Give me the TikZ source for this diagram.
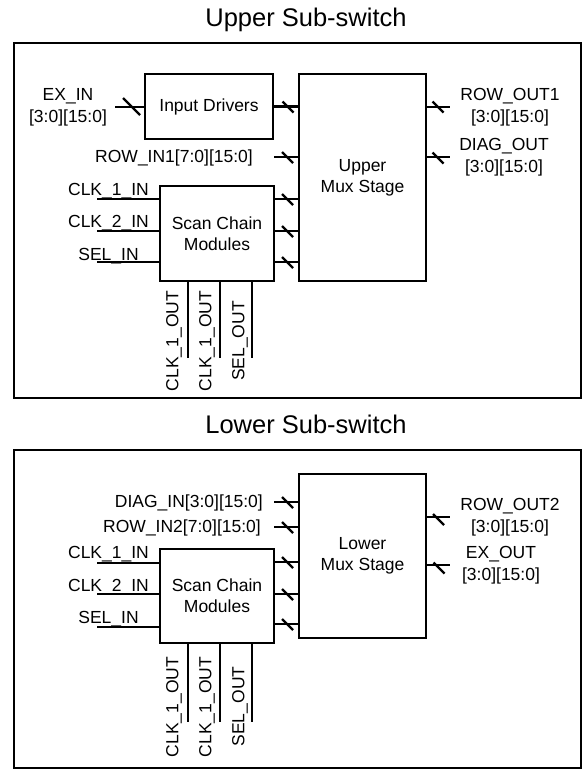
\documentclass[tikz,border=0pt]{standalone}
\usepackage{fontspec}
\setmainfont{Liberation Sans}
\usetikzlibrary{calc}
\begin{document}
\begin{tikzpicture}[x=1pt,y=-1pt,
  wire/.style={line width=2.5pt},
  bus/.style={line width=2.3pt},
  blk/.style={draw,line width=2.5pt,inner sep=0pt,font=\fontsize{17.5}{21}\selectfont,align=center},
  frm/.style={draw,line width=2pt,inner sep=0pt},
  lbl/.style={font=\fontsize{17.5}{22}\selectfont,inner sep=0pt},
  ttl/.style={font=\fontsize{25.5}{30}\selectfont,inner sep=0pt,anchor=base}]
\useasboundingbox (0,0) rectangle (584,770);

% ================= Upper =================
\node[ttl] (utitle) at (306,27) {Upper Sub-switch};
\node[frm,minimum width=567pt,minimum height=355pt] (ufrm) at (297.5,220.5) {};

\node[blk,minimum width=128pt,minimum height=65pt] (drv) at (209,106.5) {Input Drivers};
\node[blk,minimum width=127pt,minimum height=207pt] (umux) at (362.5,177.5) {Upper\\Mux Stage};
\node[blk,minimum width=114pt,minimum height=95pt] (uscan) at (217,233.5) {Scan Chain\\Modules};

% EX_IN
\coordinate (exin) at (115,107);
\draw[wire] (exin) -- (exin -| drv.west);
\draw[bus] (131.5,106.5) ++(-8.5,-8.5) -- ++(17,17);
\node[lbl,align=center] (exinl) at (68,107) {EX\_IN\\{[3:0][15:0]}};

% drivers -> mux
\draw[wire] (drv.east) -- (drv.east -| umux.west);
\draw[bus] (288,107) ++(-5.5,-5.5) -- ++(11,11);

% ROW_IN1
\coordinate (rin1) at (274,157);
\draw[wire] (rin1) -- (rin1 -| umux.west);
\draw[bus] (287.5,157.5) ++(-5.5,-5.5) -- ++(11,11);
\node[lbl,anchor=base east] (rin1l) at (253,163) {ROW\_IN1[7:0][15:0]};

% scan -> mux
\coordinate (us1) at (274,199);
\coordinate (us2) at (274,231);
\coordinate (us3) at (274,262);
\foreach \c in {us1,us2,us3}{
  \draw[wire] (\c) -- (\c -| umux.west);
  \draw[bus] ($(\c)+(13.5,0.5)$) ++(-5.5,-5.5) -- ++(11,11);
}

% scan inputs
\coordinate (uc1) at (97,199);
\coordinate (uc2) at (97,231);
\coordinate (uc3) at (97,262);
\draw[wire] (uc1) -- (uc1 -| uscan.west);
\draw[wire] (uc2) -- (uc2 -| uscan.west);
\draw[wire] (uc3) -- (uc3 -| uscan.west);
\node[lbl,anchor=base] (uc1l) at (108.5,195) {CLK\_1\_IN};
\node[lbl,anchor=base] (uc2l) at (108.5,227) {CLK\_2\_IN};
\node[lbl,anchor=base] (uc3l) at (108.5,260) {SEL\_IN};

% scan outputs
\coordinate (uo1) at (188,358);
\coordinate (uo2) at (220,358);
\coordinate (uo3) at (252,358);
\draw[wire] (uo1 |- uscan.south) -- (uo1);
\draw[wire] (uo2 |- uscan.south) -- (uo2);
\draw[wire] (uo3 |- uscan.south) -- (uo3);
\node[lbl,rotate=90] (uo1l) at (174,341) {CLK\_1\_OUT};
\node[lbl,rotate=90] (uo2l) at (207,341) {CLK\_1\_OUT};
\node[lbl,rotate=90] (uo3l) at (240,341) {SEL\_OUT};

% mux outputs
\coordinate (ro1) at (450,107);
\coordinate (do1) at (450,157);
\draw[wire] (ro1 -| umux.east) -- (ro1);
\draw[wire] (do1 -| umux.east) -- (do1);
\draw[bus] (438,107) ++(-5.5,-5.5) -- ++(11,11);
\draw[bus] (438,158) ++(-5.5,-5.5) -- ++(11,11);
\node[lbl,align=center] (ro1l) at (510,107.5) {ROW\_OUT1\\{[3:0][15:0]}};
\node[lbl,align=center] (do1l) at (504,157.5) {DIAG\_OUT\\{[3:0][15:0]}};

% ================= Lower =================
\node[ttl] (ltitle) at (306,433) {Lower Sub-switch};
\node[frm,minimum width=567pt,minimum height=318pt] (lfrm) at (297.5,609) {};

\node[blk,minimum width=127pt,minimum height=164pt] (lmux) at (362.5,556) {Lower\\Mux Stage};
\node[blk,minimum width=114pt,minimum height=94pt] (lscan) at (217,596) {Scan Chain\\Modules};

% DIAG_IN, ROW_IN2
\coordinate (din) at (274,502);
\coordinate (rin2) at (274,527);
\draw[wire] (din) -- (din -| lmux.west);
\draw[wire] (rin2) -- (rin2 -| lmux.west);
\draw[bus] (287.5,502.5) ++(-5.5,-5.5) -- ++(11,11);
\draw[bus] (287.5,527.5) ++(-5.5,-5.5) -- ++(11,11);
\node[lbl,anchor=base east] (dinl) at (263,507) {DIAG\_IN[3:0][15:0]};
\node[lbl,anchor=base east] (rin2l) at (261,532) {ROW\_IN2[7:0][15:0]};

% scan -> mux
\coordinate (ls1) at (274,562);
\coordinate (ls2) at (274,594);
\coordinate (ls3) at (274,624);
\foreach \c in {ls1,ls2,ls3}{
  \draw[wire] (\c) -- (\c -| lmux.west);
  \draw[bus] ($(\c)+(13.5,0.5)$) ++(-5.5,-5.5) -- ++(11,11);
}

% scan inputs
\coordinate (lc1) at (97,563);
\coordinate (lc2) at (97,594);
\coordinate (lc3) at (97,627);
\draw[wire] (lc1) -- (lc1 -| lscan.west);
\draw[wire] (lc2) -- (lc2 -| lscan.west);
\draw[wire] (lc3) -- (lc3 -| lscan.west);
\node[lbl,anchor=base] (lc1l) at (108.5,558) {CLK\_1\_IN};
\node[lbl,anchor=base] (lc2l) at (108.5,591) {CLK\_2\_IN};
\node[lbl,anchor=base] (lc3l) at (108.5,623) {SEL\_IN};

% scan outputs
\coordinate (lo1) at (188,722);
\coordinate (lo2) at (220,722);
\coordinate (lo3) at (252,722);
\draw[wire] (lo1 |- lscan.south) -- (lo1);
\draw[wire] (lo2 |- lscan.south) -- (lo2);
\draw[wire] (lo3 |- lscan.south) -- (lo3);
\node[lbl,rotate=90] (lo1l) at (174,707) {CLK\_1\_OUT};
\node[lbl,rotate=90] (lo2l) at (207,707) {CLK\_1\_OUT};
\node[lbl,rotate=90] (lo3l) at (240,706.5) {SEL\_OUT};

% mux outputs
\coordinate (ro2) at (450,517);
\coordinate (exo) at (450,565);
\draw[wire] (ro2 -| lmux.east) -- (ro2);
\draw[wire] (exo -| lmux.east) -- (exo);
\draw[bus] (438.5,519.5) ++(-5.5,-5.5) -- ++(11,11);
\draw[bus] (439,568) ++(-5.5,-5.5) -- ++(11,11);
\node[lbl,align=center] (ro2l) at (510,517.5) {ROW\_OUT2\\{[3:0][15:0]}};
\node[lbl,align=center] (exol) at (501,565) {EX\_OUT\\{[3:0][15:0]}};
\end{tikzpicture}
\end{document}
